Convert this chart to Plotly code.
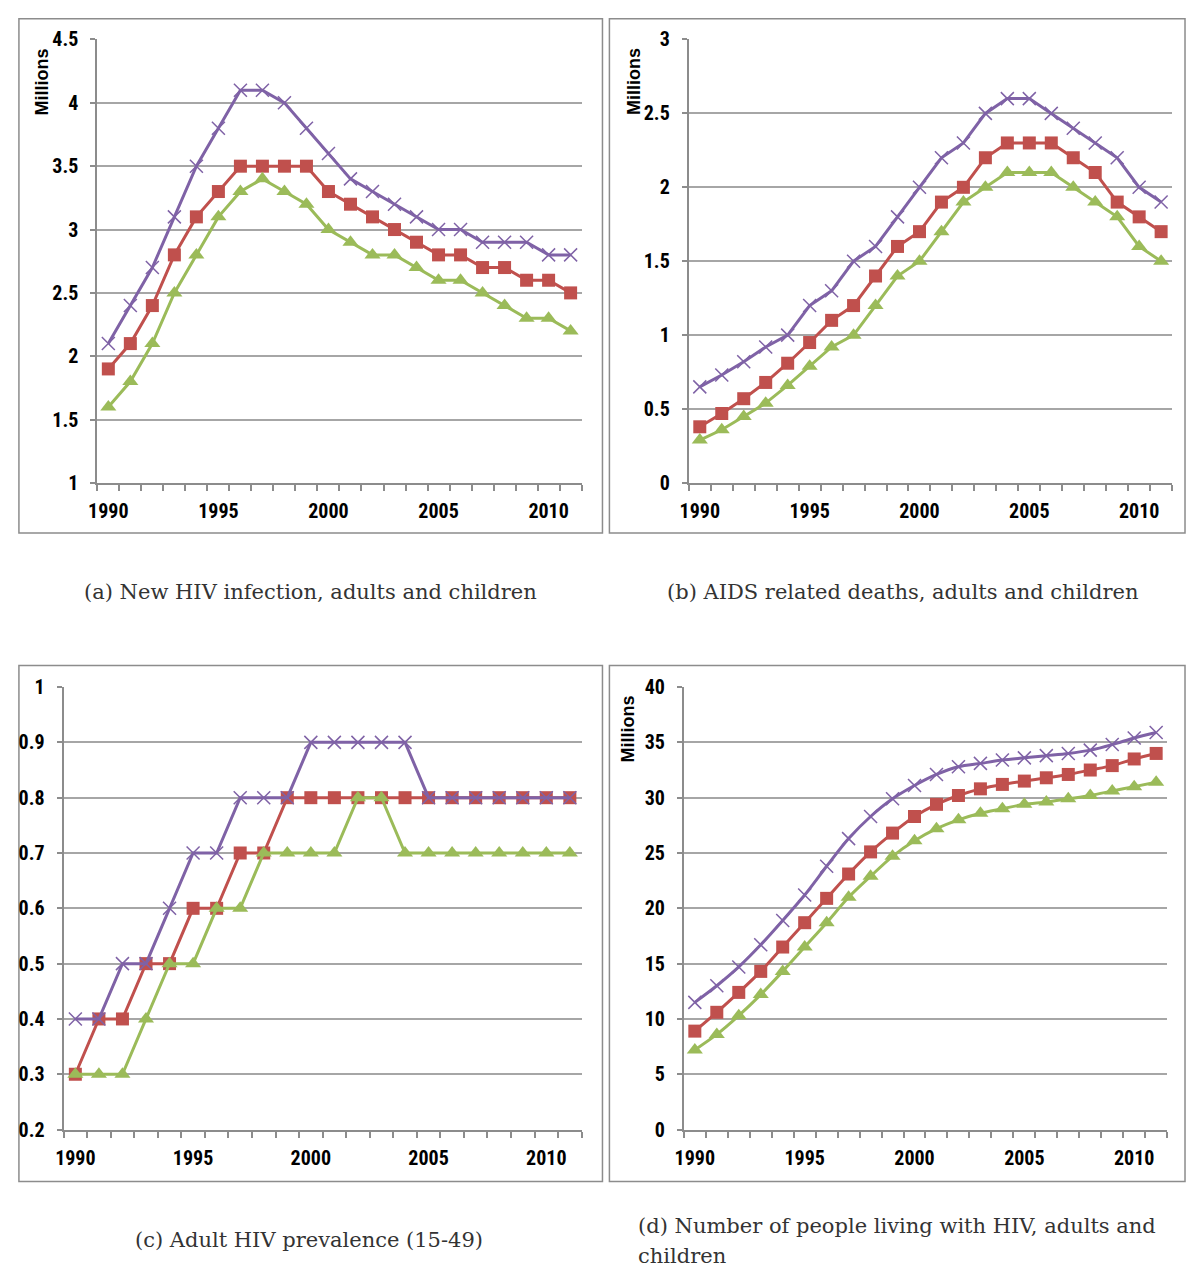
import plotly.graph_objects as go

W, H = 1187, 1276

years = list(range(1990, 2012))

# (a) New HIV infection (millions)
a_high = [2.1, 2.4, 2.7, 3.1, 3.5, 3.8, 4.1, 4.1, 4.0, 3.8, 3.6, 3.4, 3.3, 3.2, 3.1, 3.0, 3.0, 2.9, 2.9, 2.9, 2.8, 2.8]
a_est = [1.9, 2.1, 2.4, 2.8, 3.1, 3.3, 3.5, 3.5, 3.5, 3.5, 3.3, 3.2, 3.1, 3.0, 2.9, 2.8, 2.8, 2.7, 2.7, 2.6, 2.6, 2.5]
a_low = [1.6, 1.8, 2.1, 2.5, 2.8, 3.1, 3.3, 3.4, 3.3, 3.2, 3.0, 2.9, 2.8, 2.8, 2.7, 2.6, 2.6, 2.5, 2.4, 2.3, 2.3, 2.2]

# (b) AIDS related deaths (millions)
b_high = [0.65, 0.73, 0.82, 0.92, 1.0, 1.2, 1.3, 1.5, 1.6, 1.8, 2.0, 2.2, 2.3, 2.5, 2.6, 2.6, 2.5, 2.4, 2.3, 2.2, 2.0, 1.9]
b_est = [0.38, 0.47, 0.57, 0.68, 0.81, 0.95, 1.1, 1.2, 1.4, 1.6, 1.7, 1.9, 2.0, 2.2, 2.3, 2.3, 2.3, 2.2, 2.1, 1.9, 1.8, 1.7]
b_low = [0.29, 0.36, 0.45, 0.54, 0.66, 0.79, 0.92, 1.0, 1.2, 1.4, 1.5, 1.7, 1.9, 2.0, 2.1, 2.1, 2.1, 2.0, 1.9, 1.8, 1.6, 1.5]

# (c) Adult HIV prevalence (15-49), %
c_high = [0.4, 0.4, 0.5, 0.5, 0.6, 0.7, 0.7, 0.8, 0.8, 0.8, 0.9, 0.9, 0.9, 0.9, 0.9, 0.8, 0.8, 0.8, 0.8, 0.8, 0.8, 0.8]
c_est = [0.3, 0.4, 0.4, 0.5, 0.5, 0.6, 0.6, 0.7, 0.7, 0.8, 0.8, 0.8, 0.8, 0.8, 0.8, 0.8, 0.8, 0.8, 0.8, 0.8, 0.8, 0.8]
c_low = [0.3, 0.3, 0.3, 0.4, 0.5, 0.5, 0.6, 0.6, 0.7, 0.7, 0.7, 0.7, 0.8, 0.8, 0.7, 0.7, 0.7, 0.7, 0.7, 0.7, 0.7, 0.7]

# (d) People living with HIV (millions)
d_high = [11.5, 13.0, 14.7, 16.7, 18.9, 21.2, 23.8, 26.3, 28.3, 29.9, 31.1, 32.1, 32.8, 33.1, 33.4, 33.6, 33.8, 34.0, 34.3, 34.8, 35.4, 35.9]
d_est = [8.9, 10.6, 12.4, 14.3, 16.5, 18.7, 20.9, 23.1, 25.1, 26.8, 28.3, 29.4, 30.2, 30.8, 31.2, 31.5, 31.8, 32.1, 32.5, 32.9, 33.5, 34.0]
d_low = [7.2, 8.6, 10.3, 12.2, 14.3, 16.5, 18.7, 21.0, 22.9, 24.7, 26.1, 27.2, 28.0, 28.6, 29.0, 29.4, 29.6, 29.9, 30.2, 30.6, 31.0, 31.4]

x_tickvals = [1990, 1995, 2000, 2005, 2010]
x_ticktext = ["1990", "1995", "2000", "2005", "2010"]

caption_a = "(a) New HIV infection, adults and children"
caption_b = "(b) AIDS related deaths, adults and children"
caption_c = "(c) Adult HIV prevalence (15-49)"
caption_d1 = "(d) Number of people living with HIV, adults and"
caption_d2 = "children"

PURPLE = "#7F62A6"
RED = "#C0504D"
GREEN = "#9BBB59"
GRID = "#A6A6A6"
AXIS = "#8C8C8C"
TICKFONT = dict(family="Roboto Condensed, Noto Sans Condensed, Liberation Sans Narrow, Liberation Sans, sans-serif",
                size=20, color="#000000", weight="bold")


def px_x(p):
    return p / W


def px_y(p):
    return 1 - p / H


panels = [
    # name, data, left, right, top, bottom, yrange, dtick, shape, millions
    ("1", (a_est, a_low, a_high), 89, 577, 28, 480, [1, 4.5], 0.5, "linear", True),
    ("2", (b_est, b_low, b_high), 685, 1172, 28, 480, [0, 3], 0.5, "linear", True),
    ("3", (c_est, c_low, c_high), 55, 577, 688, 1139, [0.2, 1], 0.1, "linear", False),
    ("4", (d_est, d_low, d_high), 680, 1167, 688, 1139, [0, 40], 5, "spline", True),
]

fig = go.Figure()
layout = {}
annotations = []
shapes = []

for name, (est, low, high), l, r, t, b, yr, dt, shape, millions in panels:
    xa = "x" if name == "1" else "x" + name
    ya = "y" if name == "1" else "y" + name
    line_kw = dict(width=3, shape=shape)
    if shape == "spline":
        line_kw["smoothing"] = 0.8
    fig.add_trace(go.Scatter(
        x=years, y=est, xaxis=xa, yaxis=ya, mode="lines+markers",
        line=dict(color=RED, **line_kw),
        marker=dict(symbol="square", size=13, color=RED),
        showlegend=False, cliponaxis=False))
    fig.add_trace(go.Scatter(
        x=years, y=low, xaxis=xa, yaxis=ya, mode="lines+markers",
        line=dict(color=GREEN, **line_kw),
        marker=dict(symbol="triangle-up", size=14, color=GREEN),
        showlegend=False, cliponaxis=False))
    fig.add_trace(go.Scatter(
        x=years, y=high, xaxis=xa, yaxis=ya, mode="lines+markers",
        line=dict(color=PURPLE, **line_kw),
        marker=dict(symbol="x-thin", size=13, color=PURPLE,
                    line=dict(color=PURPLE, width=1.5)),
        showlegend=False, cliponaxis=False))

    xkey = "xaxis" if name == "1" else "xaxis" + name
    ykey = "yaxis" if name == "1" else "yaxis" + name
    layout[xkey] = dict(
        domain=[px_x(l), px_x(r)], anchor=ya, range=[1989.5, 2011.5],
        tickmode="array", tickvals=x_tickvals, ticktext=x_ticktext,
        ticks="", showgrid=False, zeroline=False,
        showline=True, linecolor=AXIS, linewidth=2,
        tickfont=TICKFONT, ticklabelstandoff=9,
        minor=dict(tickmode="linear", tick0=1989.5, dtick=1, ticks="outside",
                   ticklen=6, tickwidth=1.5, tickcolor=AXIS, showgrid=False),
    )
    layout[ykey] = dict(
        domain=[px_y(b), px_y(t)], anchor=xa, range=yr,
        tickmode="linear", tick0=yr[0], dtick=dt,
        ticks="outside", ticklen=5, tickwidth=1.5, tickcolor=AXIS,
        showgrid=True, gridcolor=GRID, gridwidth=1.5, zeroline=False,
        showline=True, linecolor=AXIS, linewidth=2,
        tickfont=TICKFONT, ticklabelstandoff=8,
    )
    if millions:
        annotations.append(dict(
            text="<b>Millions</b>", textangle=-90, xref="paper", yref="paper",
            x=px_x(l - 56), y=px_y(t + 43), xanchor="center", yanchor="middle",
            showarrow=False,
            font=dict(family="Liberation Sans, Arial, sans-serif", size=18, color="#000000")))

# Panel frames
frames = [(10, 598, 7, 531), (605, 1185, 7, 531), (10, 598, 666, 1192), (605, 1185, 666, 1192)]
for x0, x1, y0, y1 in frames:
    shapes.append(dict(type="rect", xref="paper", yref="paper",
                       x0=px_x(x0), x1=px_x(x1), y0=px_y(y1), y1=px_y(y0),
                       line=dict(color="#8C8C8C", width=1.5), layer="below"))

cap_font = dict(family="DejaVu Serif, Liberation Serif, serif", size=21, color="#333333")
for text, x, y, anchor in [
    (caption_a, 304, 591, "center"),
    (caption_b, 900, 591, "center"),
    (caption_c, 302, 1252, "center"),
    (caption_d1, 632, 1237, "left"),
    (caption_d2, 632, 1268, "left"),
]:
    annotations.append(dict(text=text, xref="paper", yref="paper", x=px_x(x), y=px_y(y),
                            xanchor=anchor, yanchor="middle", showarrow=False, font=cap_font))

fig.update_layout(
    width=W, height=H, margin=dict(l=0, r=0, t=0, b=0),
    paper_bgcolor="white", plot_bgcolor="white",
    annotations=annotations, shapes=shapes, showlegend=False,
    **layout)

fig.write_html(
    "out.html",
    config={"displayModeBar": False},
    post_script="document.body.style.margin='0';document.body.style.overflow='hidden';",
)
